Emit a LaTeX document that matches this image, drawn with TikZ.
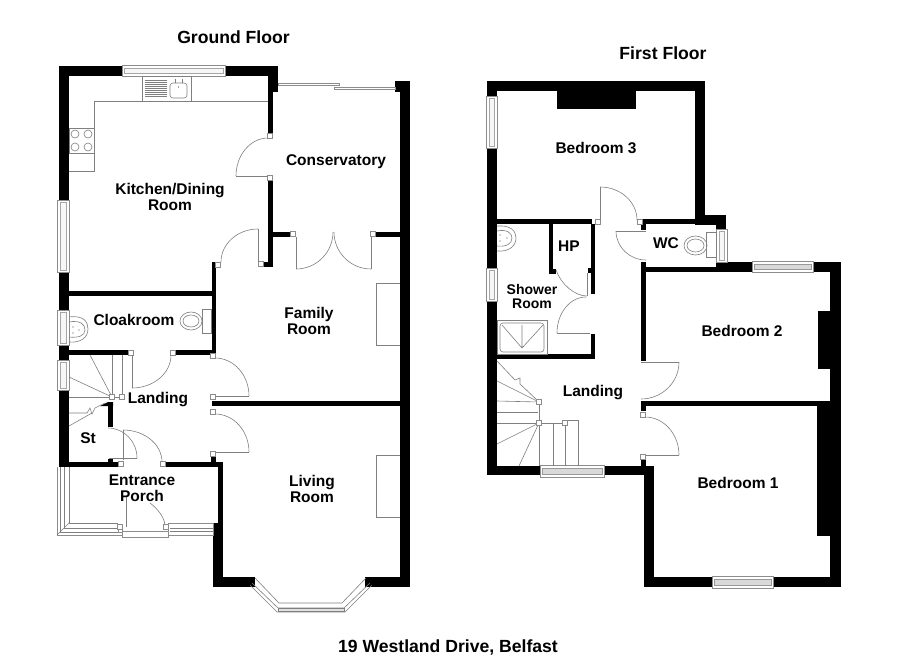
\documentclass[tikz,border=0pt]{standalone}
\usepackage{fontspec}
\setmainfont{Liberation Sans}[BoldFont={Liberation Sans Bold}]
\usetikzlibrary{calc}
\tikzset{
  wallfill/.style={fill=black,draw=none},
  thinl/.style={draw=black!50,line width=0.6pt},
  winl/.style={draw=black!45,line width=0.6pt,fill=white},
  wing/.style={draw=black!40,line width=0.5pt,fill=black!15},
  winw/.style={draw=black!35,line width=0.5pt,fill=black!3},
  jambbox/.style={draw=black!45,line width=0.6pt,fill=white},
  lab/.style={font=\fontsize{15.5}{16}\selectfont\bfseries,align=center,inner sep=0pt},
  labs/.style={font=\fontsize{14}{14}\selectfont\bfseries,align=center,inner sep=0pt},
  ttl/.style={font=\fontsize{17.6}{18}\selectfont\bfseries,inner sep=0pt}
}
\def\wl(#1)(#2){\fill[wallfill] (#1) rectangle (#2);}
\def\qa(#1)(#2)(#3){\draw[thinl] (#1) .. controls ($(#1)!0.552!(#2)$) and ($(#3)!0.552!(#2)$) .. (#3);}
\def\jm(#1){\draw[jambbox] (#1) ++(-2.4,-2.4) rectangle ++(4.8,4.8);}
\def\ln(#1)(#2){\draw[thinl] (#1) -- (#2);}
% horizontal window, grey glazing: x1,x2,y1,y2
\def\winh#1#2#3#4{\draw[winl] (#1,#3) rectangle (#2,#4);
  \draw[wing] ({#1+2},{#3+3}) rectangle ({#2-2},{#4-3});}
% windows with pale glazing
\def\winhw#1#2#3#4{\draw[winl] (#1,#3) rectangle (#2,#4);
  \draw[winw] ({#1+2},{#3+3}) rectangle ({#2-2},{#4-3});}
\def\winv#1#2#3#4{\draw[winl] (#1,#3) rectangle (#2,#4);
  \draw[winw] ({#1+3},{#3+2}) rectangle ({#2-3},{#4-2});}
\begin{document}
\begin{tikzpicture}[x=1pt,y=-1pt]
\useasboundingbox (0,0) rectangle (900,654);
\fill[white] (0,0) rectangle (900,654);

%%%%%%%% GROUND FLOOR walls
\wl(59,66)(278,76)
\wl(59,66)(69,467)
\wl(268,66)(278,92)
\wl(268,66)(273,134)
\wl(268,181)(273,267)
\wl(263,262)(273,267)
\wl(273,232)(291,237)
\wl(376,232)(401,237)
\wl(395,81)(410,92)
\wl(400,81)(410,587)
\wl(212,262)(216,352)
\wl(69,291)(216,296)
\wl(69,350)(128,355)
\wl(175,350)(216,355)
\wl(212,401)(410,406)
\wl(211,457)(216,462)
\wl(69,462)(118,467)
\wl(166,462)(223,467)
\wl(108,459)(113,462)
\wl(218,462)(223,523)
\wl(213,523)(223,587)
\wl(213,577)(255,587)
\wl(365,577)(410,587)
\wl(108,402)(113,427)
\fill[wallfill] (100,406) -- (108,402) -- (113,402) -- (113,406) -- cycle;

%%%%%%%% windows
\winhw{122}{225}{65}{76}
\winv{57}{69}{200}{272}
\winv{57}{69}{310}{345}
\winv{57}{69}{360}{390}
% sliding doors
\draw[winl] (278,83) rectangle (339,85);
\draw[winl] (334,87) rectangle (395,89);
% porch windows
\draw[winl] (57,467) -- (57,535) -- (122,535);
\draw[thinl] (69,467) -- (69,523) -- (118,523);
\draw[thinl] (60,467) -- (60,532) -- (122,532);
\draw[thinl] (64,467) -- (64,528) -- (118,528);
\draw[thinl] (57,535) -- (69,523);
\draw[winl] (118,526) rectangle (122,532);
\draw[winl] (168,523) rectangle (213,535);
\draw[thinl] (170,528) -- (213,528);
\draw[thinl] (170,531) -- (213,531);
\draw[winl] (122,531) rectangle (168,537);
\jm(120,527)
\jm(166,527)
% bay window
\draw[thinl] (250,585) -- (277,612) -- (345,612) -- (372,585);
\draw[thinl] (252,583) -- (278,608) -- (344,608) -- (370,583);
\draw[thinl] (255,578) -- (279,603) -- (342,603) -- (366,578);
\draw[thinl,fill=black!12] (278,608) rectangle (344,611);

%%%%%%%% doors, ground floor
\jm(270,136) \jm(270,178)
\qa(268,138)(236,138)(236,176)
\ln(236,176)(268,176)
\jm(218,265) \jm(261,264)
\qa(221,262)(221,229)(258,229)
\ln(258,229)(258,262)
\jm(293,234) \jm(373,234)
\ln(296,237)(296,269)
\ln(371,237)(371,269)
\qa(296,269)(333,269)(333,232)
\qa(371,269)(334,269)(334,232)
\jm(131,353) \jm(173,353)
\ln(132,355)(132,388)
\qa(132,388)(171,388)(171,355)
\jm(213,356) \jm(213,397)
\qa(215,358)(249,358)(249,396)
\ln(249,396)(216,396)
\jm(213,412) \jm(213,454)
\qa(215,414)(249,414)(249,452)
\ln(249,452)(216,452)
\jm(121,464) \jm(163,464)
\qa(123,430)(162,430)(162,462)
\ln(123,430)(123,460)
\qa(108,428)(137,428)(137,458)
\ln(137,458)(109,458)
\ln(126,497)(126,527)
\draw[thinl] (150,503) .. controls (158,509) and (164,517) .. (165,525);

%%%%%%%% kitchen fittings
\draw[thinl] (69,171) -- (94,171) -- (94,101) -- (268,101);
\draw[thinl] (142,76) rectangle (191,101);
\foreach \yy in {80,82,84,86,88,90,92,94,96}{\draw[draw=black!50,line width=0.4pt] (145,\yy) -- (167,\yy);}
\draw[thinl,rounded corners=3pt] (170,83) rectangle (187,98);
\draw[thinl] (175,83) -- (175,79) (182,83) -- (182,79);
\fill[black!70] (178.5,87) circle (0.7);
\draw[thinl] (69,128) rectangle (94,153);
\foreach \cx in {75,88}{\foreach \cy in {134,147}{\draw[thinl] (\cx,\cy) circle (4);}}

% cloakroom fittings
\draw[thinl] (69,317) .. controls (84,315) and (88,322) .. (88,329) .. controls (88,338) and (80,343) .. (69,342);
\draw[thinl] (69,322) .. controls (80,320) and (85,324) .. (85,330) .. controls (85,336) and (78,338) .. (69,337);
\fill[black!70] (73,327) circle (0.7) (73,333) circle (0.7) (79,330) circle (0.6);
\draw[thinl] (202,309) rectangle (211,333);
\draw[thinl] (191,321) ellipse (11 and 9);
\draw[thinl] (191,321) ellipse (8 and 6);

% fireplaces
\draw[thinl] (400,283) -- (376,283) -- (376,345) -- (400,345);
\draw[thinl] (400,455) -- (376,455) -- (376,517) -- (400,517);

% ground stairs
\coordinate (gn1) at (112,397);
\coordinate (gn2) at (122,397);
\ln(gn1)(90,355)
\ln(112,355)(gn1)
\ln(122,355)(gn2)
\ln(gn1)(gn2)
\ln(69,377)(gn1)
\ln(69,397)(gn1)
\ln(69,426)(92,413)
\draw[thinl] (69,413) -- (87,413) -- (90,408) -- (92,414) -- (95,408) -- (105,403);
\jm(gn1) \jm(gn2)

%%%%%%%% FIRST FLOOR walls
\wl(487,81)(705,91)
\wl(487,81)(497,475)
\wl(695,81)(705,225)
\wl(557,91)(636,109)
\wl(497,219)(592,224)
\wl(643,219)(705,224)
\wl(705,215)(726,225)
\wl(716,215)(726,229)
\wl(641,224)(646,230)
\wl(641,262)(646,361)
\wl(646,267)(716,272)
\wl(716,262)(752,272)
\wl(813,262)(841,272)
\wl(830,262)(841,587)
\wl(549,224)(553,274)
\wl(549,269)(556,274)
\wl(591,224)(595,294)
\wl(588,268)(591,273)
\wl(591,334)(595,359)
\wl(497,354)(595,359)
\wl(487,466)(540,475)
\wl(604,466)(654,475)
\wl(641,401)(830,406)
\wl(641,406)(646,411)
\wl(641,460)(646,466)
\wl(644,466)(654,587)
\wl(644,577)(712,587)
\wl(773,577)(841,587)
\wl(818,311)(830,369)
\wl(817,406)(830,536)

% first floor windows
\winv{486}{497}{96}{148}
\winv{486}{497}{268}{301}
\winv{716}{727}{229}{262}
\winh{752}{813}{261}{272}
\winh{712}{773}{576}{588}
\winh{540}{604}{465}{477}

% first floor doors
\jm(598,222) \jm(640,222)
\ln(600,187)(600,220)
\qa(600,187)(637,187)(637,220)
\ln(616,231)(646,231)
\qa(616,231)(616,260)(646,260)
\qa(556,270)(565,296)(587,296)
\ln(587,273)(587,296)
\qa(586,297)(557,297)(557,333)
\ln(557,333)(590,333)
\ln(641,362)(679,362)
\qa(679,362)(679,399)(641,399)
\jm(643,415) \jm(643,457)
\qa(645,417)(679,417)(679,455)
\ln(679,455)(646,455)

% WC and shower fittings
\draw[thinl] (706,232) rectangle (716,257);
\draw[thinl] (695.5,245.5) ellipse (11.5 and 9.5);
\draw[thinl] (695.5,245.5) ellipse (8.5 and 6.5);
\draw[thinl] (497,226) .. controls (511,225) and (516,231) .. (516,238) .. controls (516,246) and (509,252) .. (497,251);
\draw[thinl] (497,231) .. controls (507,229) and (512,233) .. (512,238) .. controls (512,244) and (506,247) .. (497,246);
\fill[black!70] (500,235) circle (0.7) (500,241) circle (0.7) (507,238) circle (0.6);
\draw[thinl] (497,320) rectangle (547,354);
\draw[thinl,rounded corners=3pt] (500,323) rectangle (544,352);
\draw[thinl] (502,325) -- (522,348) -- (543,325) (522,325) -- (522,348);

% first stairs
\coordinate (fn1) at (539,402);
\coordinate (fn2) at (539,423);
\coordinate (fn3) at (565,423);
\ln(fn1)(fn2)
\ln(fn2)(fn3)
\ln(fn2)(539,466)
\ln(553,423)(553,466)
\ln(fn3)(565,466)
\draw[thinl] (565,420) -- (578,420) -- (578,466);
\ln(497,381)(fn1)
\ln(497,401)(fn1)
\ln(497,412)(538,412)
\ln(497,423)(fn2)
\ln(497,444)(fn2)
\ln(519,466)(fn2)
\draw[thinl] (497,361) -- (515,380) -- (520,378) -- (520,384) -- (537,400);
\jm(fn1) \jm(fn2) \jm(fn3)

%%%%%%%% TEXT
\node[ttl] (t1) at (233.5,37) {Ground Floor};
\node[ttl] (t2) at (663,53) {First Floor};
\node[ttl] (t3) at (448,647) {19 Westland Drive, Belfast};
\node[lab] (r1) at (170,197) {Kitchen/Dining\\[0pt]Room};
\node[lab] (r2) at (336,162) {Conservatory};
\node[lab] (r3) at (309,321) {Family\\[0pt]Room};
\node[lab] (r4) at (134,320) {Cloakroom};
\node[lab] (r5) at (158,400) {Landing};
\node[lab] (r6) at (88,438) {St};
\node[lab] (r7) at (142,488) {Entrance\\[0pt]Porch};
\node[lab] (r8) at (312,489) {Living\\[0pt]Room};
\node[lab] (r9) at (596,148) {Bedroom 3};
\node[lab] (r10) at (569,246) {HP};
\node[lab] (r11) at (666,243) {WC};
\node[labs] (r12) at (532,296) {Shower\\[0pt]Room};
\node[lab] (r13) at (593,393) {Landing};
\node[lab] (r14) at (742,331) {Bedroom 2};
\node[lab] (r15) at (738,483) {Bedroom 1};
\end{tikzpicture}
\end{document}
